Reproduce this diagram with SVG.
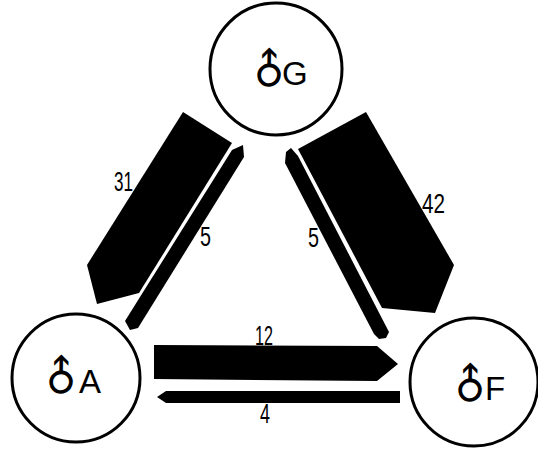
<svg xmlns="http://www.w3.org/2000/svg" width="538" height="449" viewBox="0 0 538 449">
<style>
.node{fill:#fff;stroke:#000;stroke-width:3}
.lbl{font-family:"Liberation Sans",Arial,sans-serif;font-size:33px;fill:#000}
.sym{font-family:"DejaVu Sans",sans-serif;font-size:42px;fill:#000}
.num{font-family:"Liberation Sans",Arial,sans-serif;font-size:27px;fill:#000}
.flow{fill:#000;stroke:none}
</style>
<rect width="538" height="449" fill="#fff"/>
<g id="connectors">
<polygon class="flow" points="183,112 232,143 139,293 97,304 87,265"/>
<polygon class="flow" points="125,321 232,150 243,145 244,157 138,328 130,330"/>
<polygon class="flow" points="298,149 366,112 454,265 435,313 382,308"/>
<polygon class="flow" points="285,163 286,152 291,148 298,156 389,332 386,338 379,339 374,334"/>
<polygon class="flow" points="154,345 377,346 398,364 377,381 154,379"/>
<polygon class="flow" points="157,397 166,391 400,391 400,403 166,403"/>
<text class="num" x="114" y="191" textLength="19" lengthAdjust="spacingAndGlyphs">31</text>
<text class="num" x="200" y="246" textLength="11" lengthAdjust="spacingAndGlyphs">5</text>
<text class="num" x="308" y="247" textLength="11" lengthAdjust="spacingAndGlyphs">5</text>
<text class="num" x="422" y="213" textLength="23" lengthAdjust="spacingAndGlyphs">42</text>
<text class="num" x="255" y="345" textLength="18" lengthAdjust="spacingAndGlyphs">12</text>
<text class="num" x="260" y="423" textLength="10" lengthAdjust="spacingAndGlyphs">4</text>
</g>
<g id="nodeG">
<circle class="node" cx="276" cy="69" r="66"/>
<text class="sym" transform="translate(269,70) rotate(-45)" text-anchor="middle" dominant-baseline="central">♂</text>
<text class="lbl" x="282" y="85">G</text>
</g>
<g id="nodeA">
<circle class="node" cx="76" cy="378" r="64"/>
<text class="sym" transform="translate(61,377) rotate(-45)" text-anchor="middle" dominant-baseline="central">♂</text>
<text class="lbl" x="79" y="393">A</text>
</g>
<g id="nodeF">
<circle class="node" cx="474" cy="382" r="64"/>
<text class="sym" transform="translate(470,385) rotate(-45)" text-anchor="middle" dominant-baseline="central">♂</text>
<text class="lbl" x="485" y="400">F</text>
</g>
</svg>
